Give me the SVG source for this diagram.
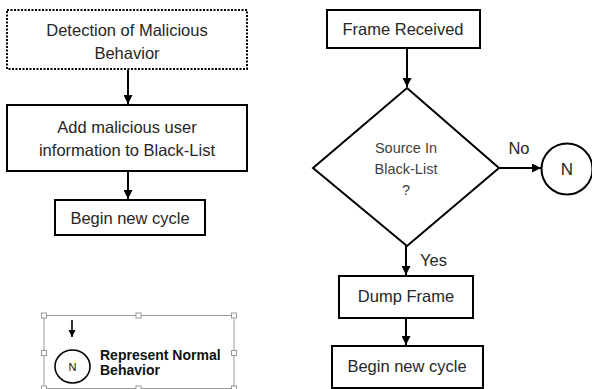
<svg xmlns="http://www.w3.org/2000/svg" width="592" height="389" viewBox="0 0 592 389">
<style>
.box{fill:#fff;stroke:#000;stroke-width:2}
.dot{fill:#fff;stroke:#000;stroke-width:2;stroke-dasharray:2 1.5}
.t{font-family:"Liberation Sans",Arial,sans-serif;font-size:16.5px;fill:#262626;text-anchor:middle}
.s{font-family:"Liberation Sans",Arial,sans-serif;font-size:14.5px;fill:#404040;text-anchor:middle}
.c{stroke:#000;stroke-width:2;fill:none;marker-end:url(#ah)}
.h{fill:#fff;stroke:#9a9a9a;stroke-width:1}
.b{font-family:"Liberation Sans",Arial,sans-serif;font-size:14px;font-weight:bold;fill:#111}
</style>
<defs>
<marker id="ah" viewBox="0 0 10 10" refX="10" refY="5" markerWidth="4.5" markerHeight="4.5" orient="auto" markerUnits="strokeWidth">
<path d="M0,0 L10,5 L0,10 z" fill="#000"/>
</marker>
</defs>
<rect width="592" height="389" fill="#fff"/>
<g id="connectors">
<line class="c" x1="128" y1="70" x2="128" y2="104"/>
<line class="c" x1="128" y1="171" x2="128" y2="199"/>
<line class="c" x1="407" y1="48" x2="407" y2="87"/>
<line class="c" x1="499" y1="168" x2="541" y2="168"/>
<line class="c" x1="406" y1="246" x2="406" y2="275"/>
<line class="c" x1="406" y1="318" x2="406" y2="345"/>
<text class="t" x="519" y="154" style="text-anchor:middle">No</text>
<text class="t" x="420" y="266" style="text-anchor:start">Yes</text>
</g>
<g id="detection">
<rect class="dot" x="7" y="10" width="240" height="59"/>
<text class="t" x="127" y="36">Detection of Malicious</text>
<text class="t" x="127" y="59">Behavior</text>
</g>
<g id="add-blacklist">
<rect class="box" x="7" y="105" width="240" height="66"/>
<text class="t" x="127" y="133">Add malicious user</text>
<text class="t" x="127" y="156">information to Black-List</text>
</g>
<g id="begin-left">
<rect class="box" x="55" y="200" width="150" height="35"/>
<text class="t" x="130" y="224">Begin new cycle</text>
</g>
<g id="frame-received">
<rect class="box" x="327" y="10" width="153" height="38"/>
<text class="t" x="403" y="35">Frame Received</text>
</g>
<g id="decision">
<polygon class="box" points="407,88 499,168 407,246 313,168"/>
<text class="s" x="406" y="153">Source In</text>
<text class="s" x="406" y="174">Black-List</text>
<text class="s" x="406" y="195">?</text>
</g>
<g id="n-node">
<circle class="box" cx="567" cy="169" r="25.5"/>
<text class="t" x="567" y="175" style="font-size:17px">N</text>
</g>
<g id="dump-frame">
<rect class="box" x="339" y="276" width="134" height="42"/>
<text class="t" x="406" y="302">Dump Frame</text>
</g>
<g id="begin-right">
<rect class="box" x="332" y="346" width="151" height="42"/>
<text class="t" x="407" y="372">Begin new cycle</text>
</g>
<g id="legend">
<rect x="44" y="315.5" width="190" height="73" fill="none" stroke="#9a9a9a" stroke-width="1"/>
<rect class="h" x="41.5" y="313" width="5" height="5"/>
<rect class="h" x="136" y="313" width="5" height="5"/>
<rect class="h" x="231.5" y="313" width="5" height="5"/>
<rect class="h" x="41.5" y="350.5" width="5" height="5"/>
<rect class="h" x="231.5" y="350.5" width="5" height="5"/>
<rect class="h" x="41.5" y="386" width="5" height="5"/>
<rect class="h" x="136" y="386" width="5" height="5"/>
<rect class="h" x="231.5" y="386" width="5" height="5"/>
<line x1="72" y1="320" x2="72" y2="337" stroke="#000" stroke-width="1.6" marker-end="url(#ah)"/>
<ellipse cx="72.5" cy="366.5" rx="17.5" ry="16.5" fill="#fff" stroke="#000" stroke-width="1.6"/>
<text x="72.5" y="371" style="font-family:'Liberation Sans',Arial,sans-serif;font-size:11px;text-anchor:middle;fill:#111">N</text>
<text class="b" x="100" y="360">Represent Normal</text>
<text class="b" x="100" y="375">Behavior</text>
</g>
</svg>
